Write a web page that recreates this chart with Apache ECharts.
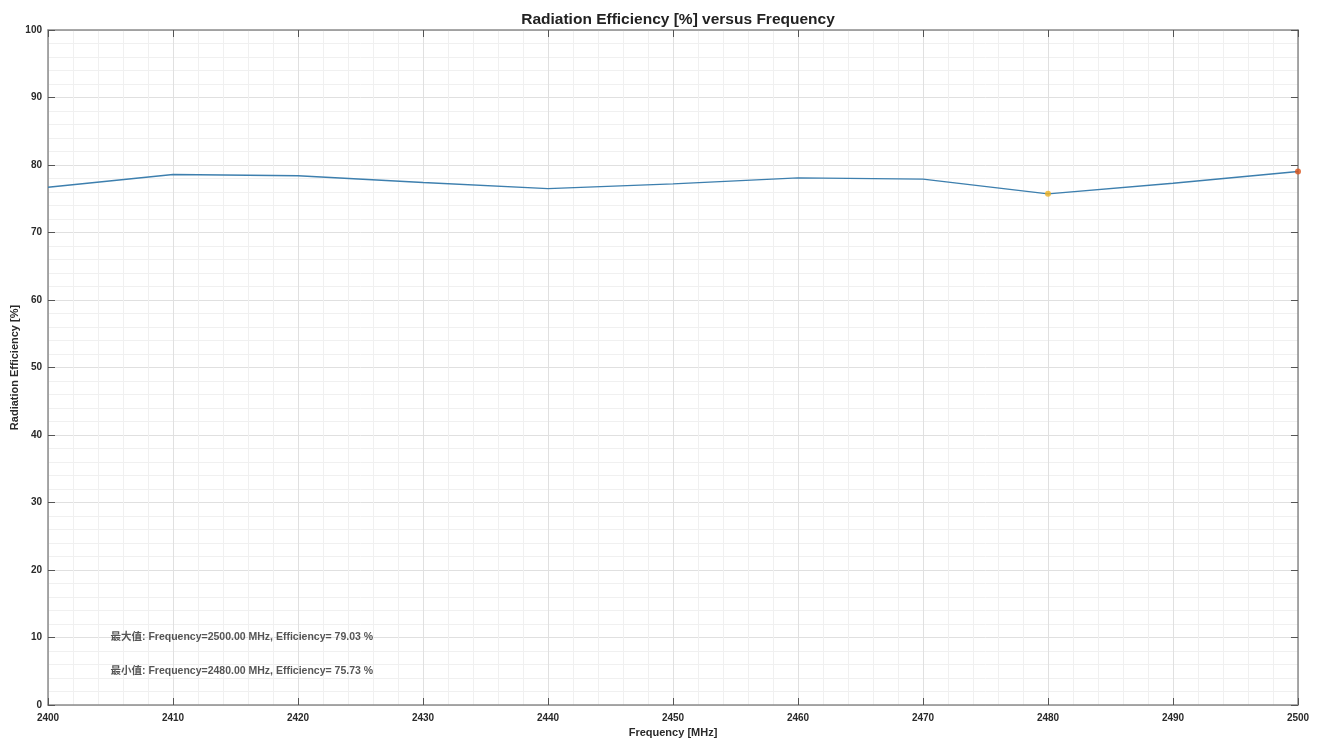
<!DOCTYPE html>
<html>
<head>
<meta charset="utf-8">
<title>Radiation Efficiency</title>
<script src="https://cdn.jsdelivr.net/npm/echarts@6/dist/echarts.min.js"></script>
<style>
  html, body { margin: 0; padding: 0; background: #fff; }
  #chart { width: 1323px; height: 743px; }
</style>
</head>
<body>
<div id="chart"></div>
<script>
// Frequency sweep (MHz) and measured radiation efficiency (%)
const frequencies = [2400, 2410, 2420, 2430, 2440, 2450, 2460, 2470, 2480, 2490, 2500];
const efficiency  = [76.7, 78.6, 78.4, 77.4, 76.5, 77.2, 78.1, 77.9, 75.73, 77.3, 79.03];

// Axis tick values
const xTicks = [2400, 2410, 2420, 2430, 2440, 2450, 2460, 2470, 2480, 2490, 2500];
const yTicks = [0, 10, 20, 30, 40, 50, 60, 70, 80, 90, 100];

// Where the summary notes sit, in data units
const noteX = 2405;
const noteMaxY = 10;
const noteMinY = 5;

const font = '"Liberation Sans", Arial, "Noto Sans CJK SC", sans-serif';

// locate extremes
let iMax = 0, iMin = 0;
efficiency.forEach((v, i) => {
  if (v > efficiency[iMax]) iMax = i;
  if (v < efficiency[iMin]) iMin = i;
});
const maxText = '最大值: Frequency=' + frequencies[iMax].toFixed(2) + ' MHz, Efficiency= ' + efficiency[iMax].toFixed(2) + ' %';
const minText = '最小值: Frequency=' + frequencies[iMin].toFixed(2) + ' MHz, Efficiency= ' + efficiency[iMin].toFixed(2) + ' %';

const lineData = frequencies.map((f, i) => [f, efficiency[i]]);

const axisLine = { show: true, onZero: false, lineStyle: { color: '#8c8c8c', width: 1.5 } };
const tickStyle = { show: true, inside: true, length: 7, lineStyle: { color: '#555', width: 1 } };
const labelStyle = { color: '#2a2a2a', fontSize: 10, fontWeight: 'bold', fontFamily: font,
                     formatter: v => String(v) };
const nameStyle = { fontSize: 11, fontWeight: 'bold', color: '#2a2a2a', fontFamily: font };

const gridLeft = 48, gridRight = 25;
const chartWidth = 1323;

const chart = echarts.init(document.getElementById('chart'), null, { renderer: 'canvas' });
chart.setOption({
  animation: false,
  backgroundColor: '#ffffff',
  title: {
    text: 'Radiation Efficiency [%] versus Frequency',
    // centred over the plotting area
    left: (gridLeft + (chartWidth - gridRight)) / 2,
    textAlign: 'center',
    top: 7,
    textStyle: { fontSize: 15.5, fontWeight: 'bold', color: '#222', fontFamily: font }
  },
  grid: { left: gridLeft, right: gridRight, top: 30, bottom: 38, containLabel: false, outerBoundsMode: 'none' },
  xAxis: [{
    type: 'value',
    min: xTicks[0], max: xTicks[xTicks.length - 1], interval: 10,
    name: 'Frequency [MHz]', nameLocation: 'middle', nameGap: 22, nameMoveOverlap: false,
    nameTextStyle: nameStyle,
    axisLine: axisLine,
    axisTick: tickStyle,
    axisLabel: Object.assign({ margin: 8 }, labelStyle),
    splitLine: { show: true, lineStyle: { color: '#e0e0e0', width: 1 } },
    minorTick: { show: false, splitNumber: 5 },
    minorSplitLine: { show: true, lineStyle: { color: '#f0f0f0', width: 1 } }
  }, {
    type: 'value', position: 'top',
    min: xTicks[0], max: xTicks[xTicks.length - 1], interval: 10,
    axisLine: axisLine, axisTick: tickStyle,
    axisLabel: { show: false }, splitLine: { show: false }
  }],
  yAxis: [{
    type: 'value',
    min: yTicks[0], max: yTicks[yTicks.length - 1], interval: 10,
    name: 'Radiation Efficiency [%]', nameLocation: 'middle', nameGap: 28, nameMoveOverlap: false,
    nameTextStyle: nameStyle,
    axisLine: axisLine,
    axisTick: tickStyle,
    axisLabel: Object.assign({ margin: 6 }, labelStyle),
    splitLine: { show: true, lineStyle: { color: '#e0e0e0', width: 1 } },
    minorTick: { show: false, splitNumber: 5 },
    minorSplitLine: { show: true, lineStyle: { color: '#f0f0f0', width: 1 } }
  }, {
    type: 'value', position: 'right',
    min: yTicks[0], max: yTicks[yTicks.length - 1], interval: 10,
    axisLine: axisLine, axisTick: tickStyle,
    axisLabel: { show: false }, splitLine: { show: false }
  }],
  series: [{
    type: 'line',
    data: lineData,
    showSymbol: false,
    symbol: 'none',
    lineStyle: { color: '#3d7fae', width: 1.4 },
    z: 3
  }, {
    type: 'scatter',
    data: [[frequencies[iMax], efficiency[iMax]]],
    symbol: 'circle', symbolSize: 6,
    itemStyle: { color: '#D95319' },
    z: 4
  }, {
    type: 'scatter',
    data: [[frequencies[iMin], efficiency[iMin]]],
    symbol: 'circle', symbolSize: 6,
    itemStyle: { color: '#EDB120' },
    z: 4
  }, {
    type: 'scatter',
    data: [
      { value: [noteX, noteMaxY], label: { formatter: maxText } },
      { value: [noteX, noteMinY], label: { formatter: minText } }
    ],
    symbolSize: 0,
    silent: true,
    label: {
      show: true, position: 'right', distance: 0,
      fontSize: 10.5, fontWeight: 'bold', color: '#2a2a2a', fontFamily: font
    },
    z: 5
  }]
});
</script>
</body>
</html>
